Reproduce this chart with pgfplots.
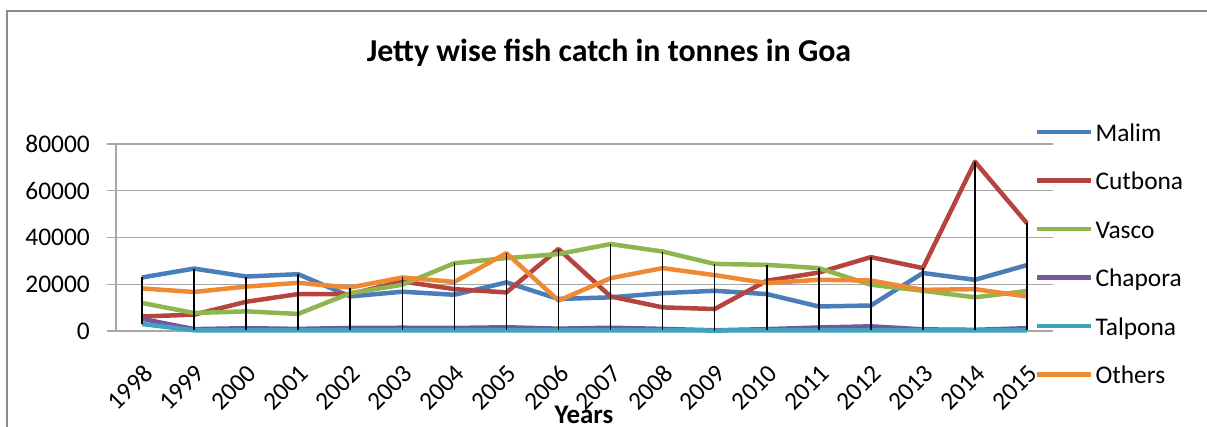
\documentclass[border=0pt]{standalone}
\usepackage{pgfplots}
\pgfplotsset{compat=1.18}
\usepackage{pgfplotstable}
\usepackage{fontspec}
\setmainfont{Carlito}

\definecolor{cMalim}{HTML}{4A7EBB}
\definecolor{cCutbona}{HTML}{B7433F}
\definecolor{cVasco}{HTML}{8EB64E}
\definecolor{cChapora}{HTML}{76579B}
\definecolor{cTalpona}{HTML}{3FA2BE}
\definecolor{cOthers}{HTML}{EE8A33}
\definecolor{cGrid}{HTML}{A6A6A6}
\definecolor{cBorder}{HTML}{8C8C8C}

\pgfplotstableread{
x Malim Cutbona Vasco Chapora Talpona Others hi err
0 22900 6200 12000 5200 3000 18200 22900 19900
1 26700 7000 7700 800 300 16700 26700 26400
2 23300 12500 8400 1200 300 19000 23300 23000
3 24300 15800 7300 900 300 20600 24300 24000
4 14800 15800 16200 1300 300 18600 18600 18300
5 16800 21200 19800 1400 300 22900 22900 22600
6 15500 17900 29000 1300 300 21000 29000 28700
7 20800 16500 31200 1600 300 33300 33300 33000
8 13700 35100 32900 1000 300 13000 35100 34800
9 14400 14800 37200 1400 300 22600 37200 36900
10 16200 10100 34000 900 300 26900 34000 33700
11 17200 9400 28700 300 200 23900 28700 28500
12 15800 21500 28300 800 300 20500 28300 28000
13 10500 25000 26900 1500 300 21900 26900 26600
14 10900 31600 19800 2000 300 21600 31600 31300
15 24800 26900 17200 700 300 17600 26900 26600
16 21900 72400 14400 500 300 17900 72400 72100
17 28200 46100 17100 1200 300 14800 46100 45800
}\data

\begin{document}
\begin{tikzpicture}[x=1bp,y=1bp]
\useasboundingbox (0,0) rectangle (1207,426);
\draw[cBorder, line width=2.5bp] (7,-5) -- (7,415) -- (1215,415);
\node[anchor=base, font=\fontsize{32}{36}\selectfont\bfseries] at (609,365) {Jetty wise fish catch in tonnes in Goa};
\begin{axis}[
  at={(116bp,95bp)}, anchor=south west,
  scale only axis, width=937bp, height=187bp,
  xmin=-0.5, xmax=17.5, ymin=0, ymax=80000,
  axis x line*=bottom, axis y line*=left,
  axis line style={cGrid, line width=1.2bp},
  ymajorgrids, grid style={cGrid, line width=1.2bp},
  ytick={0,20000,40000,60000,80000},
  scaled y ticks=false,
  tick align=outside, major tick length=9bp,
  ytick style={cGrid, line width=1.2bp},
  xtick style={draw=none},
  xtick=data,
  xticklabels={1998,1999,2000,2001,2002,2003,2004,2005,2006,2007,2008,2009,2010,2011,2012,2013,2014,2015},
  /pgf/number format/assume math mode=true,
  yticklabel style={/pgf/number format/fixed, /pgf/number format/1000 sep={}, font=\fontsize{25.5}{30}\selectfont, inner sep=0pt, xshift=-17bp},
  xticklabel style={font=\fontsize{25.5}{30}\selectfont, inner sep=0pt, xshift=0bp, yshift=-23bp, rotate=45, anchor=north east},
  legend style={at={(axis description cs:0.9808,1.1123)}, anchor=north west, draw=none, fill=none,
    inner sep=0pt, outer sep=0pt, row sep=24.5bp, column sep=2bp,
    font=\fontsize{25.5}{30}\selectfont,
    nodes={inner sep=0pt, text height=18bp, text depth=6bp}},
  legend cell align=left,
  legend image code/.code={\draw[#1, line width=4.5bp] (0bp,0.3em) -- (54bp,0.3em);},
  every axis plot/.append style={line width=4.5bp, mark=none, line join=round},
  clip=false,
]
\addplot[cMalim] table[x=x, y=Malim] {\data};
\addlegendentry{Malim}
\addplot[cCutbona] table[x=x, y=Cutbona] {\data};
\addlegendentry{Cutbona}
\addplot[cVasco] table[x=x, y=Vasco] {\data};
\addlegendentry{Vasco}
\addplot[cChapora] table[x=x, y=Chapora] {\data};
\addlegendentry{Chapora}
\addplot[cTalpona] table[x=x, y=Talpona] {\data};
\addlegendentry{Talpona}
\addplot[cOthers] table[x=x, y=Others] {\data};
\addlegendentry{Others}
\addplot[forget plot, draw=none, mark=none,
  error bars/.cd, y dir=minus, y explicit, error mark=none,
  error bar style={draw=black, solid, line width=1.6bp}]
  table[x=x, y=hi, y error minus=err] {\data};
\end{axis}
\node[font=\fontsize{27}{30}\selectfont\bfseries] at (584,11) {Years};
\end{tikzpicture}
\end{document}
